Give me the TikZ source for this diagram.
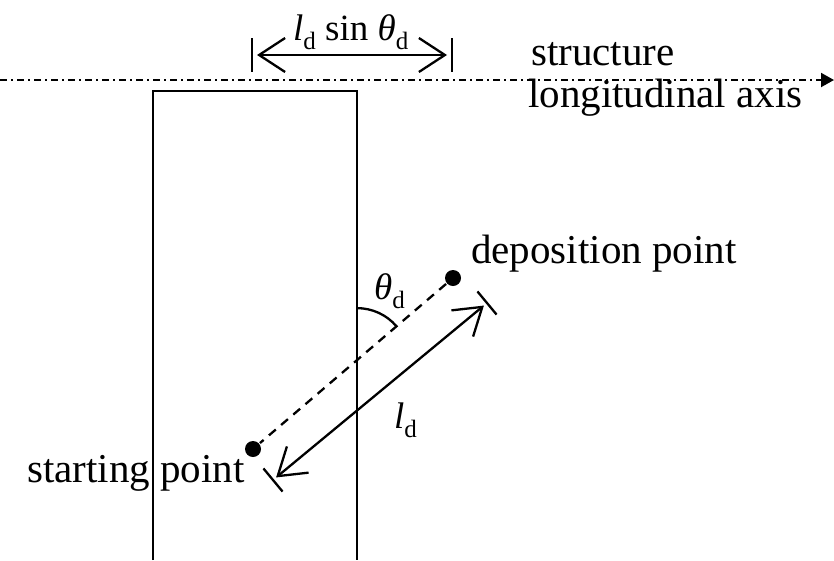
\documentclass[tikz,border=0pt]{standalone}
\usepackage{fontspec}
\setmainfont{Liberation Serif}
\usetikzlibrary{arrows.meta,calc}
\newcommand{\sbd}{\raisebox{-0.25em}{\fontsize{25}{25}\selectfont d}}
\begin{document}
\begin{tikzpicture}[x=1pt,y=-1pt,
  font=\fontsize{41}{49}\selectfont,
  line width=2.3pt,
  label/.style={inner sep=0pt, anchor=base west},
  mlabel/.style={inner sep=0pt, anchor=base west, font=\fontsize{37}{44}\selectfont},
  dot/.style={circle, fill=black, inner sep=0pt, minimum size=16pt},
  dimarrow/.style={{Straight Barb[length=26pt,width=34pt]}-{Straight Barb[length=26pt,width=34pt]}, shorten <=5pt, shorten >=5pt},
  tick/.style={line width=2.3pt},
  axis/.style={line width=2pt, dash pattern=on 7pt off 4pt on 2pt off 4pt, -{Triangle[length=13pt,width=14pt]}}]
\useasboundingbox (0,0) rectangle (834,560);

% axis
\coordinate (axL) at (0,80);
\coordinate (axR) at (834,80);
\draw[axis] (axL) -- (axR);

% structure rectangle
\coordinate (rlb) at (153,560);
\coordinate (rlt) at (153,91);
\coordinate (rrt) at (357,91);
\coordinate (rrb) at (357,560);
\draw (rlb) -- (rlt) -- (rrt) -- (rrb);

% top dimension
\coordinate (t1a) at (252,38);
\coordinate (t1b) at (252,72);
\coordinate (t2a) at (452,38);
\coordinate (t2b) at (452,72);
\coordinate (d1) at (252,55);
\coordinate (d2) at (452,55);
\draw[tick] (t1a) -- (t1b);
\draw[tick] (t2a) -- (t2b);
\draw[dimarrow] (d1) -- (d2);
\node[mlabel] (lsin) at (292,40) {\textit{l}\sbd\ sin \textit{θ}\sbd};

% labels
\node[label] (lstr) at (530,65) {structure};
\node[label] (llong) at (527,107) {longitudinal axis};

% points
\node[dot] (dep) at (453,278) {};
\node[dot] (start) at (253,449) {};
\node[label] (ldep) at (470,263) {deposition point};
\node[label] (lstart) at (26,482) {starting point};
\draw[dashed, dash pattern=on 9pt off 7pt] (dep) -- (start);

% angle
\coordinate (v) at (intersection of dep--start and rrt--rrb);
\draw (v) ++(0,-52) arc[start angle=90, end angle=40.7, radius=52pt];
\node[mlabel] (lth) at (373,299) {\textit{θ}\sbd};

% length dimension
\coordinate (c1) at (273,480);
\coordinate (c2) at (487,303);
\draw[tick] ($(c1)!15pt!90:(c2)$) -- ($(c1)!15pt!-90:(c2)$);
\draw[tick] ($(c2)!15pt!90:(c1)$) -- ($(c2)!15pt!-90:(c1)$);
\draw[dimarrow, shorten <=4pt, shorten >=4pt] (c1) -- (c2);
\node[mlabel] (lld) at (393,428) {\textit{l}\sbd};
\end{tikzpicture}
\end{document}
